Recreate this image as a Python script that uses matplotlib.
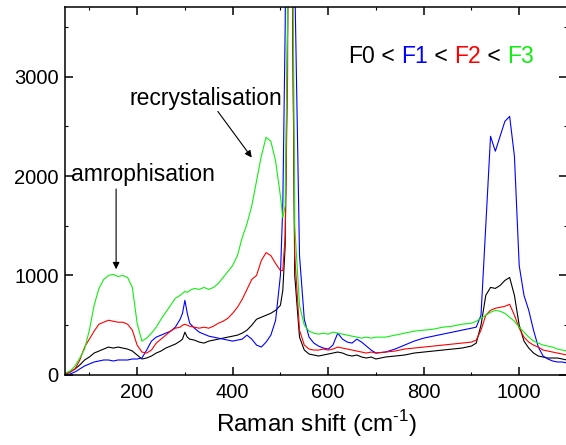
import matplotlib
matplotlib.use("Agg")
import matplotlib.pyplot as plt
from matplotlib.ticker import MultipleLocator

plt.rcParams['font.family'] = ['Liberation Sans', 'DejaVu Sans']
plt.rcParams['mathtext.fontset'] = 'custom'
plt.rcParams['mathtext.rm'] = 'Liberation Sans'

shift = [50, 60, 70, 80, 90, 100, 110, 120, 130, 140, 150, 160, 170, 180, 190,
         200, 210, 220, 230, 240, 250, 260, 270, 280, 290, 295, 300, 305, 310,
         320, 330, 340, 350, 360, 370, 380, 390, 400, 410, 420, 430, 440, 450,
         460, 470, 480, 490, 500, 505, 510, 515, 520, 525, 530,
         540, 550, 560, 570, 580, 590, 600, 610, 620, 630, 640, 650, 660, 670,
         680, 690, 700, 720, 740, 760, 780, 800, 820, 840, 860, 880, 900,
         910, 920, 930, 940, 950, 960, 970, 980, 990, 1000, 1010, 1020, 1030,
         1040, 1050, 1060, 1070, 1080, 1090, 1100]

f0 = [10, 30, 60, 100, 150, 180, 220, 240, 260, 280, 270, 280, 270, 260, 240,
      200, 160, 170, 190, 220, 240, 270, 290, 310, 340, 360, 430, 380, 360,
      350, 330, 320, 340, 350, 360, 370, 380, 390, 400, 420, 450, 500, 560,
      580, 600, 620, 650, 700, 850, 1300, 3500, 9000, 4000, 1000,
      380, 250, 210, 200, 190, 200, 210, 220, 230, 220, 200, 190, 200, 180,
      170, 180, 160, 180, 190, 200, 220, 230, 240, 250, 260, 270, 290,
      320, 500, 800, 880, 870, 900, 950, 980, 800, 500, 340, 270, 220,
      190, 180, 170, 170, 170, 160, 150]

f1 = [0, 10, 30, 60, 90, 110, 130, 140, 150, 150, 140, 150, 150, 150, 160,
      160, 170, 250, 340, 380, 400, 420, 440, 480, 560, 620, 750, 620, 520,
      470, 430, 410, 390, 380, 370, 360, 350, 340, 350, 360, 400, 360, 300,
      280, 330, 400, 550, 1000, 1700, 3500, 7000, 9000, 7000, 4000,
      1200, 560, 380, 320, 290, 270, 260, 300, 420, 360, 330, 320, 360, 330,
      290, 250, 220, 230, 260, 300, 340, 370, 390, 410, 430, 450, 470,
      480, 600, 1500, 2400, 2250, 2400, 2550, 2600, 2200, 1100, 800, 650, 450,
      280, 190, 160, 140, 130, 130, 120]

f2 = [10, 30, 60, 150, 280, 360, 440, 510, 530, 550, 540, 530, 530, 510, 450,
      300, 230, 220, 250, 320, 360, 400, 440, 470, 480, 500, 510, 500, 490,
      480, 470, 480, 470, 490, 520, 540, 570, 620, 680, 760, 860, 960, 1000,
      1150, 1230, 1200, 1120, 1050, 1050, 1400, 3000, 9000, 4000, 1200,
      450, 300, 260, 250, 250, 260, 250, 260, 280, 270, 260, 250, 240, 230,
      220, 230, 220, 230, 240, 260, 270, 280, 290, 300, 310, 320, 330,
      350, 450, 600, 650, 670, 680, 690, 710, 600, 470, 380, 330, 300,
      280, 250, 240, 230, 220, 210, 200]

f3 = [20, 40, 90, 170, 260, 450, 700, 870, 960, 1000, 1010, 990, 1000, 980, 880,
      520, 340, 370, 420, 480, 560, 630, 700, 770, 800, 820, 840, 830, 850,
      870, 860, 880, 860, 880, 920, 980, 1040, 1100, 1200, 1380, 1520, 1700, 1950,
      2200, 2390, 2350, 2150, 1800, 1580, 1700, 3500, 9000, 5000, 1500,
      700, 500, 440, 420, 410, 420, 410, 430, 420, 410, 400, 390, 380, 370,
      380, 370, 380, 380, 400, 420, 440, 450, 460, 480, 490, 510, 520,
      540, 570, 600, 630, 650, 640, 620, 580, 540, 480, 430, 380, 340,
      320, 300, 290, 280, 260, 250, 240]

series = [("F0", f0, "black"), ("F1", f1, "blue"), ("F2", f2, "red"), ("F3", f3, "#11ee11")]

fig = plt.figure(figsize=(5.66, 4.45), dpi=100)
ax = fig.add_axes([0.1157, 0.1575, 0.886, 0.8267])

for name, vals, col in series:
    ax.plot(shift, vals, color=col, lw=0.8)

ax.set_xlim(50, 1100)
ax.set_ylim(0, 3700)
ax.xaxis.set_major_locator(MultipleLocator(200))
ax.xaxis.set_minor_locator(MultipleLocator(100))
ax.yaxis.set_major_locator(MultipleLocator(1000))
ax.yaxis.set_minor_locator(MultipleLocator(500))
ax.tick_params(which='both', direction='in', top=True, right=True, labelsize=14.5)
ax.tick_params(which='major', length=6, width=1.1)
ax.tick_params(which='minor', length=2.5, width=0.8)
ax.tick_params(axis='x', pad=6)
ax.tick_params(axis='y', pad=5)
for sp in ax.spines.values():
    sp.set_linewidth(1.1)

ax.set_xlabel(r'Raman shift (cm$^{\text{-1}}$)', fontsize=17.5, labelpad=4)

ax.text(61, 1948, "amrophisation", fontsize=16.5, va='baseline')
ax.annotate("", xy=(156, 1063), xytext=(156, 1870),
            arrowprops=dict(arrowstyle='-|>', color='black', lw=0.8,
                            mutation_scale=10, shrinkA=0, shrinkB=0))
ax.text(183, 2711, "recrystalisation", fontsize=16.5, va='baseline')
ax.annotate("", xy=(440, 2186), xytext=(369, 2650),
            arrowprops=dict(arrowstyle='-|>', color='black', lw=0.8,
                            mutation_scale=10, shrinkA=0, shrinkB=0))

# coloured F0 < F1 < F2 < F3 label
parts = [("F0", "black"), (" < ", "black"), ("F1", "blue"), (" < ", "black"),
         ("F2", "red"), (" < ", "black"), ("F3", "#11ee11")]
t = ax.text(642, 3134, parts[0][0], color=parts[0][1], fontsize=16.5, va='baseline')
for txt, col in parts[1:]:
    t = ax.annotate(txt, xycoords=t, xy=(1, 0), va='bottom', color=col, fontsize=16.5)

fig.savefig("out.png", dpi=100)
